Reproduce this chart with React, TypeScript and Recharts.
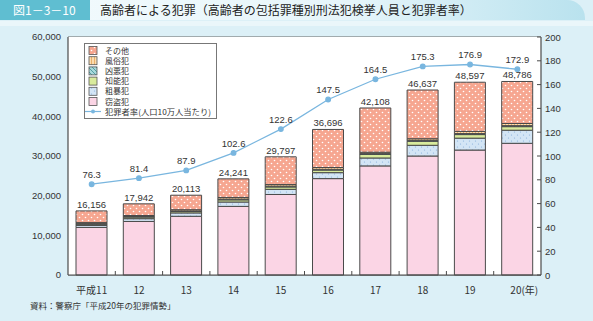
import React from "react"
import { Bar, BarChart, CartesianGrid, LabelList, Line, XAxis, YAxis } from "recharts"

const years = ["平成11", "12", "13", "14", "15", "16", "17", "18", "19", "20"]
const theft = [12000, 13500, 14800, 17300, 20300, 24300, 27500, 30000, 31500, 33200]
const violent = [500, 700, 850, 1100, 1300, 1500, 2000, 2700, 3000, 3300]
const intellectual = [300, 400, 350, 550, 600, 650, 900, 1000, 900, 900]
const heinous = [150, 150, 150, 200, 200, 200, 200, 250, 250, 250]
const moral = [250, 250, 300, 400, 400, 450, 350, 400, 550, 550]
const other = [2956, 2942, 3663, 4691, 6997, 9596, 11158, 12287, 12397, 10586]
const totals = [16156, 17942, 20113, 24241, 29797, 36696, 42108, 46637, 48597, 48786]
const rate = [76.3, 81.4, 87.9, 102.6, 122.6, 147.5, 164.5, 175.3, 176.9, 172.9]

const leftTicks = [0, 10000, 20000, 30000, 40000, 50000, 60000]
const rightTicks = [0, 20, 40, 60, 80, 100, 120, 140, 160, 180, 200]

const data = years.map((year, i) => ({
  year,
  theft: theft[i],
  violent: violent[i],
  intellectual: intellectual[i],
  heinous: heinous[i],
  moral: moral[i],
  other: other[i],
  total: totals[i],
  rate: rate[i],
}))

const FONT = '"Liberation Sans", Arial, "Noto Sans CJK JP", sans-serif'
const JP = '"Noto Sans CJK JP", "Liberation Sans", sans-serif'
const BG = "#dcf0f7"
const EDGE = "#4a4a4a"
const LINE = "#79b6df"

// plot geometry, used only for the little boundary ticks on the x axis
const PLOT_W = 473
const HALF_BAND = PLOT_W / years.length / 2

function Defs({ p }: { p: string }) {
  return (
    <defs>
      <pattern id={`${p}other`} width="6" height="6" patternUnits="userSpaceOnUse">
        <rect width="6" height="6" fill="#f6a690" />
        <circle cx="1.5" cy="1.5" r="0.8" fill="#fff" />
        <circle cx="4.5" cy="4.5" r="0.8" fill="#fff" />
      </pattern>
      <pattern id={`${p}violent`} width="6" height="6" patternUnits="userSpaceOnUse">
        <rect width="6" height="6" fill="#d3e5f5" />
        <circle cx="1.5" cy="3" r="0.6" fill="#86aedb" />
        <circle cx="4.5" cy="0" r="0.6" fill="#86aedb" />
        <circle cx="4.5" cy="6" r="0.6" fill="#86aedb" />
      </pattern>
      <pattern id={`${p}heinous`} width="4" height="4" patternUnits="userSpaceOnUse">
        <rect width="4" height="4" fill="#a8d9da" />
        <path d="M0,0 L4,4" stroke="#3f8f95" strokeWidth="0.8" />
      </pattern>
      <pattern id={`${p}moral`} width="3" height="3" patternUnits="userSpaceOnUse">
        <rect width="3" height="3" fill="#fbdcb0" />
        <path d="M1.5,0 L1.5,3" stroke="#e3a55a" strokeWidth="0.8" />
      </pattern>
    </defs>
  )
}

const series = [
  { key: "theft", name: "窃盗犯", fill: "#fbd5e5" },
  { key: "violent", name: "粗暴犯", fill: "violent" },
  { key: "intellectual", name: "知能犯", fill: "#d9eb9c" },
  { key: "heinous", name: "凶悪犯", fill: "heinous" },
  { key: "moral", name: "風俗犯", fill: "moral" },
  { key: "other", name: "その他", fill: "other" },
]

const fillOf = (f: string, p: string) => (f.startsWith("#") ? f : `url(#${p}${f})`)

function Legend() {
  const rows = [...series].reverse()
  const step = 10.2
  return (
    <div
      style={{
        position: "absolute",
        left: 84,
        top: 43,
        width: 133,
        height: 76,
        background: "#fff",
        border: "1px solid #777",
        boxSizing: "border-box",
      }}
    >
      <svg width={133} height={76} style={{ position: "absolute", left: -1, top: -1 }}>
        <Defs p="lg-" />
        {rows.map((s, i) => (
          <g key={s.key}>
            <rect x={5} y={3.5 + i * step} width={8} height={8} fill={fillOf(s.fill, "lg-")} stroke="#555" strokeWidth={0.8} />
            <text x={21} y={10.6 + i * step} fontSize={8} fontFamily={JP} fill="#333">
              {s.name}
            </text>
          </g>
        ))}
        <line x1={1} x2={17} y1={68.5} y2={68.5} stroke={LINE} strokeWidth={1.2} />
        <circle cx={9} cy={68.5} r={2} fill={LINE} />
        <text x={21} y={10.6 + 6 * step} fontSize={8} fontFamily={JP} fill="#333" textLength={106} lengthAdjust="spacingAndGlyphs">
          犯罪者率(人口10万人当たり)
        </text>
      </svg>
    </div>
  )
}

function XTick(props: any) {
  const { x, y, payload, index } = props
  const last = index === years.length - 1
  return (
    <g>
      {!last && <line x1={x + HALF_BAND} x2={x + HALF_BAND} y1={y - 4} y2={y} stroke={EDGE} strokeWidth={1} />}
      <text
        x={last ? x - 7 : x}
        y={y + 19}
        textAnchor={last ? "start" : "middle"}
        fontSize={10}
        fontFamily={JP}
        fill="#333"
      >
        {last ? `${payload.value}(年)` : payload.value}
      </text>
    </g>
  )
}

function RightTick(props: any) {
  const { x, y, payload } = props
  return (
    <g>
      <line x1={x - 8} x2={x - 4} y1={y} y2={y} stroke={EDGE} strokeWidth={1} />
      <text x={x} y={y + 3.5} fontSize={9.5} fontFamily={FONT} fill="#333">
        {payload.value}
      </text>
    </g>
  )
}

export default function App() {
  return (
    <div style={{ position: "absolute", left: 0, top: 0, width: 593, height: 321, background: BG, overflow: "hidden" }}>
      <div
        style={{
          position: "absolute",
          left: 0,
          top: 0,
          width: 585,
          height: 20,
          background: "linear-gradient(to right, #f4fbfd 0%, #e6f5fa 60%, #b9e2ee 100%)",
          borderTopRightRadius: 18,
        }}
      />
      <div style={{ position: "absolute", left: 0, top: 21, width: 593, height: 5, background: "#eaf6fa" }} />
      <div
        style={{
          position: "absolute",
          left: 0,
          top: 0,
          width: 90,
          height: 20,
          background: "#5fbed1",
          color: "#fff",
          fontFamily: JP,
          fontSize: 12,
          lineHeight: "20px",
          paddingLeft: 13,
          boxSizing: "border-box",
        }}
      >
        図1－3－10
      </div>
      <div
        style={{
          position: "absolute",
          left: 100,
          top: 0,
          fontFamily: JP,
          fontSize: 12,
          lineHeight: "20px",
          color: "#222",
          whiteSpace: "nowrap",
        }}
      >
        高齢者による犯罪（高齢者の包括罪種別刑法犯検挙人員と犯罪者率）
      </div>

      <div style={{ position: "absolute", left: 0, top: 0 }}>
        <BarChart
          width={593}
          height={321}
          data={data}
          margin={{ top: 37, right: 12, left: 8, bottom: 26 }}
          barSize={31}
        >
          <Defs p="ch-" />
          <rect x={68} y={37} width={PLOT_W} height={238} fill="#fff" />
          <CartesianGrid vertical={false} stroke="#666" strokeWidth={1.2} />
          <XAxis
            dataKey="year"
            tickLine={false}
            tickSize={0}
            tickMargin={0}
            axisLine={{ stroke: EDGE, strokeWidth: 1.2 }}
            height={20}
            tick={<XTick />}
            interval={0}
          />
          <YAxis
            yAxisId="left"
            domain={[0, 60000]}
            ticks={leftTicks}
            tickFormatter={(v: number) => v.toLocaleString("en-US")}
            tickLine={false}
            tickSize={0}
            tickMargin={7}
            axisLine={{ stroke: EDGE, strokeWidth: 1.2 }}
            width={60}
            tick={{ fontSize: 9.5, fontFamily: FONT, fill: "#333" }}
          />
          <YAxis
            yAxisId="right"
            orientation="right"
            domain={[0, 200]}
            ticks={rightTicks}
            tickLine={false}
            tickSize={0}
            tickMargin={4}
            axisLine={{ stroke: EDGE, strokeWidth: 1.2 }}
            width={40}
            tick={<RightTick />}
          />
          {series.map((s) => (
            <Bar
              key={s.key}
              yAxisId="left"
              dataKey={s.key}
              name={s.name}
              stackId="a"
              fill={fillOf(s.fill, "ch-")}
              stroke={EDGE}
              strokeWidth={1}
              isAnimationActive={false}
            >
              {s.key === "other" && (
                <LabelList
                  dataKey="total"
                  position="top"
                  offset={3}
                  formatter={(v: any) => Number(v).toLocaleString("en-US")}
                  style={{ fontSize: 9.5, fontFamily: FONT, fill: "#333" }}
                />
              )}
            </Bar>
          ))}
          <Line
            yAxisId="right"
            dataKey="rate"
            stroke={LINE}
            strokeWidth={1.3}
            dot={{ r: 2.3, fill: LINE, stroke: LINE }}
            isAnimationActive={false}
          >
            <LabelList dataKey="rate" position="top" offset={6} style={{ fontSize: 9.5, fontFamily: FONT, fill: "#333" }} />
          </Line>
        </BarChart>
      </div>

      <Legend />

      <div
        style={{
          position: "absolute",
          left: 30,
          top: 299,
          fontFamily: JP,
          fontSize: 8.5,
          color: "#333",
          whiteSpace: "nowrap",
        }}
      >
        資料：警察庁「平成20年の犯罪情勢」
      </div>
    </div>
  )
}
